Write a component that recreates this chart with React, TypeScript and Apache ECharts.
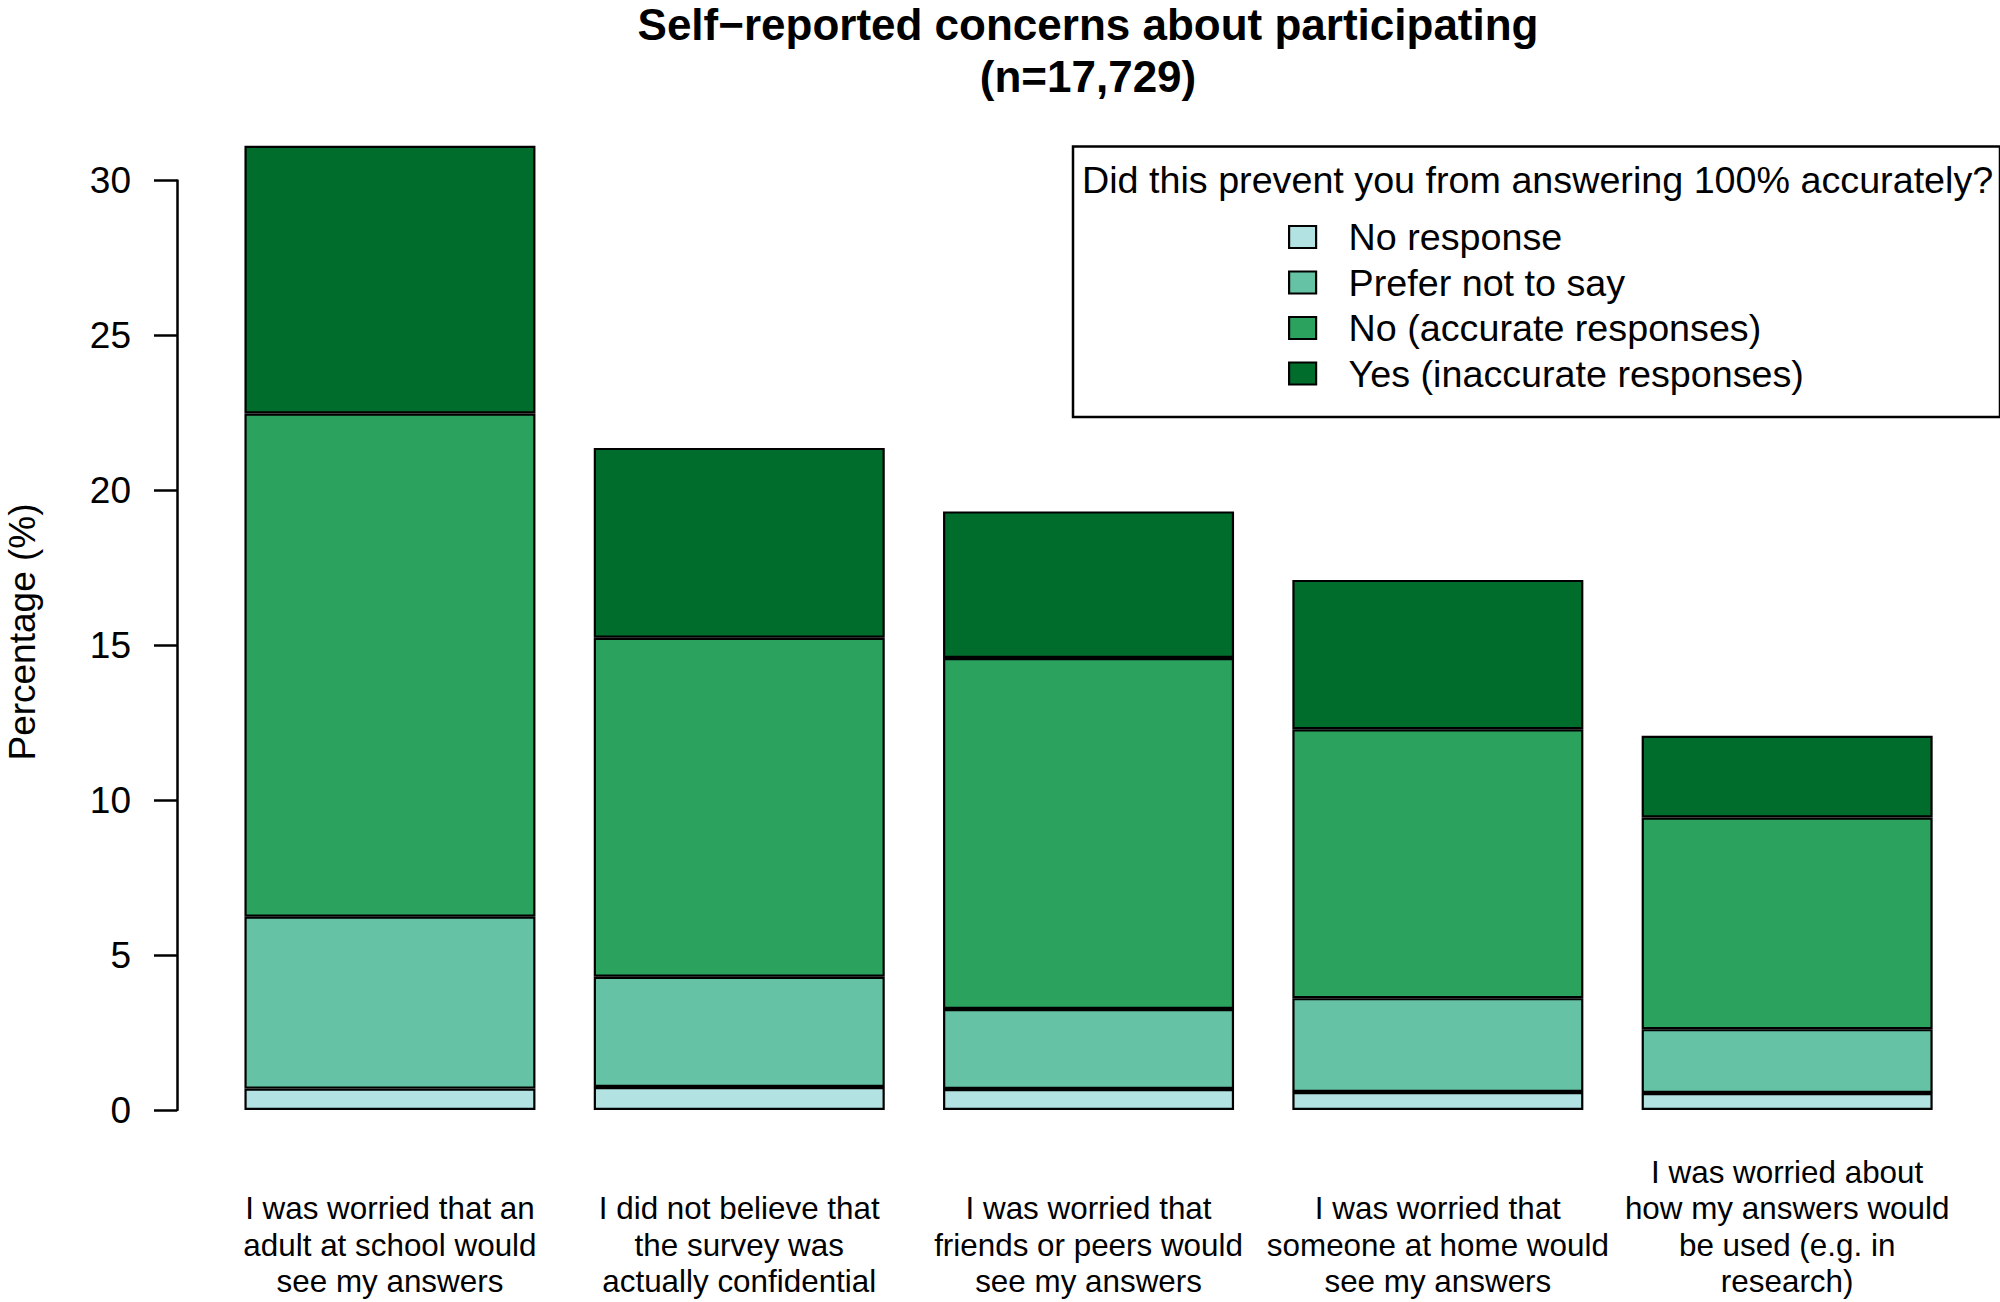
import React, { useEffect, useRef } from "react";
import * as echarts from "echarts";

const categories = [
  "I was worried that an\nadult at school would\nsee my answers",
  "I did not believe that\nthe survey was\nactually confidential",
  "I was worried that\nfriends or peers would\nsee my answers",
  "I was worried that\nsomeone at home would\nsee my answers",
  "I was worried about\nhow my answers would\nbe used (e.g. in\nresearch)",
];
const seriesNames = [
  "No response",
  "Prefer not to say",
  "No (accurate responses)",
  "Yes (inaccurate responses)",
];
const noResponse = [0.69, 0.74, 0.68, 0.58, 0.55];
const preferNot = [5.55, 3.56, 2.58, 3.03, 2.06];
const noAccurate = [16.24, 10.94, 11.33, 8.68, 6.83];
const yesInaccurate = [8.64, 6.13, 4.73, 4.82, 2.64];
const colors = ["#b2e2e2", "#66c2a4", "#2ca25f", "#006d2c"];
const yTicks = { min: 0, max: 30, interval: 5 };

const FONT = "Liberation Sans";

export default function App() {
  const ref = useRef<HTMLDivElement>(null);
  useEffect(() => {
    if (!ref.current) return;
    const chart = echarts.init(ref.current, undefined, { renderer: "svg" });
    const values = [noResponse, preferNot, noAccurate, yesInaccurate];
    const option = {
      animation: false,
      backgroundColor: "#ffffff",
      textStyle: { fontFamily: FONT },
      grid: { left: 215.3, right: 38.2, top: 180.5, bottom: 192 },
      xAxis: {
        type: "category",
        data: categories,
        axisLine: { show: false },
        axisTick: { show: false },
        axisLabel: {
          interval: 0,
          fontFamily: FONT,
          fontSize: 31.4,
          lineHeight: 36.5,
          color: "#000",
          verticalAlign: "bottom",
          margin: 190,
        },
      },
      yAxis: {
        type: "value",
        min: yTicks.min,
        max: yTicks.max,
        interval: yTicks.interval,
        offset: 38.3,
        splitLine: { show: false },
        axisLine: { show: true, lineStyle: { color: "#000", width: 2.5 } },
        axisTick: { show: true, length: 23, lineStyle: { color: "#000", width: 2.5 } },
        axisLabel: { fontFamily: FONT, fontSize: 37, color: "#000", margin: 46 },
      },
      legend: {
        orient: "vertical",
        left: 1288,
        top: 218,
        padding: 0,
        itemGap: 7.5,
        itemWidth: 27,
        itemHeight: 22,
        icon: "rect",
        data: seriesNames,
        itemStyle: { borderColor: "#000", borderWidth: 2.2 },
        textStyle: {
          fontFamily: FONT,
          fontSize: 37.7,
          lineHeight: 37,
          color: "#000",
          padding: [0, 0, 0, 27.5],
        },
      },
      series: seriesNames.map((name, i) => ({
        name,
        type: "bar",
        stack: "total",
        barWidth: 291,
        clip: false,
        data: values[i],
        itemStyle: { color: colors[i], borderColor: "#000", borderWidth: 2.2 },
        emphasis: { disabled: true },
      })),
      graphic: [
        {
          type: "text",
          x: 1088,
          y: 24,
          style: {
            text: "Self−reported concerns about participating",
            fontFamily: FONT,
            fontSize: 44,
            fontWeight: "bold",
            fill: "#000",
            align: "center",
            verticalAlign: "middle",
          },
        },
        {
          type: "text",
          x: 1088,
          y: 76,
          style: {
            text: "(n=17,729)",
            fontFamily: FONT,
            fontSize: 44,
            fontWeight: "bold",
            fill: "#000",
            align: "center",
            verticalAlign: "middle",
          },
        },
        {
          type: "text",
          x: 22,
          y: 632,
          rotation: Math.PI / 2,
          style: {
            text: "Percentage (%)",
            fontFamily: FONT,
            fontSize: 37,
            fill: "#000",
            align: "center",
            verticalAlign: "middle",
          },
        },
        {
          type: "rect",
          shape: { x: 1073, y: 146.5, width: 927, height: 270.5 },
          style: { fill: "none", stroke: "#000", lineWidth: 2.5 },
          z: 10,
        },
        {
          type: "text",
          x: 1082,
          y: 180,
          style: {
            text: "Did this prevent you from answering 100% accurately?",
            fontFamily: FONT,
            fontSize: 37.7,
            fill: "#000",
            align: "left",
            verticalAlign: "middle",
          },
        },
      ],
    };
    chart.setOption(option);
    return () => chart.dispose();
  }, []);
  return (
    <div
      ref={ref}
      style={{ position: "fixed", left: 0, top: 0, width: 2000, height: 1302, background: "#fff" }}
    />
  );
}
